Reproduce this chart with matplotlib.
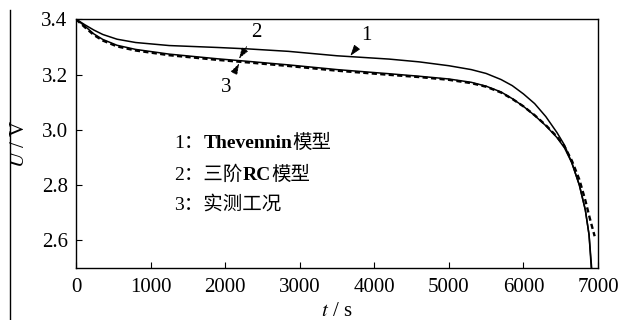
import matplotlib
matplotlib.use("Agg")
import matplotlib.pyplot as plt
from matplotlib.lines import Line2D

# ---- data ----
t_thev = [0, 50, 120, 240, 360, 550, 800, 1250, 1900, 2300, 2850, 3500, 4200, 4600,
          5000, 5300, 5500, 5700, 5850, 6000, 6150, 6300, 6450, 6550, 6650, 6750,
          6830, 6880, 6910]
u_thev = [3.400, 3.392, 3.380, 3.361, 3.345, 3.328, 3.316, 3.305, 3.298, 3.293, 3.284,
          3.268, 3.256, 3.246, 3.232, 3.218, 3.204, 3.182, 3.160, 3.130, 3.095, 3.048,
          2.990, 2.945, 2.880, 2.800, 2.710, 2.620, 2.500]

t_rc = [0, 50, 120, 240, 360, 550, 800, 1250, 1900, 2300, 2850, 3500, 4200, 4600,
        5000, 5300, 5500, 5700, 5850, 6000, 6150, 6300, 6450, 6550, 6650, 6750,
        6830, 6880, 6915]
u_rc = [3.400, 3.390, 3.375, 3.347, 3.327, 3.306, 3.291, 3.274, 3.257, 3.248, 3.235,
        3.218, 3.203, 3.194, 3.184, 3.172, 3.158, 3.137, 3.113, 3.085, 3.052, 3.015,
        2.972, 2.935, 2.880, 2.800, 2.710, 2.620, 2.500]

t_meas = [0, 50, 120, 240, 360, 550, 800, 1250, 1900, 2300, 2850, 3500, 4200, 4600,
          5000, 5300, 5500, 5700, 5850, 6000, 6150, 6300, 6450, 6550, 6650, 6750,
          6830, 6890, 6930, 6955]
u_meas = [3.400, 3.388, 3.371, 3.343, 3.323, 3.302, 3.287, 3.270, 3.253, 3.244, 3.231,
          3.214, 3.199, 3.191, 3.181, 3.169, 3.156, 3.135, 3.112, 3.085, 3.053, 3.017,
          2.975, 2.940, 2.888, 2.820, 2.745, 2.680, 2.640, 2.615]

x_ticks = [0, 1000, 2000, 3000, 4000, 5000, 6000, 7000]
y_ticks = [2.6, 2.8, 3.0, 3.2, 3.4]

legend_lines = [
    [("1：", "normal"), ("Thevennin", "bold"), ("模型", "normal")],
    [("2：三阶", "normal"), ("RC", "bold"), ("模型", "normal")],
    [("3：实测工况", "normal")],
]

FAM = ["Liberation Serif", "Noto Sans CJK SC", "DejaVu Sans"]
plt.rcParams["font.family"] = FAM
plt.rcParams["mathtext.fontset"] = "stix"

FS = 15

W, H = 620, 320
fig = plt.figure(figsize=(W / 100, H / 100), dpi=100)
L, R, T, B = 76, 598, 19.3, 268
ax = fig.add_axes([L / W, 1 - B / H, (R - L) / W, (B - T) / H])

ax.plot(t_thev, u_thev, color="black", lw=1.1)
ax.plot(t_rc, u_rc, color="black", lw=1.1)
ax.plot(t_meas, u_meas, color="black", lw=1.7, dashes=(2.2, 1.4))

ax.set_xlim(0, 7000)
ax.set_ylim(2.5, 3.4)
ax.set_xticks(x_ticks)
ax.set_yticks(y_ticks)
ax.set_yticklabels([f"{v:.1f}" for v in y_ticks])
ax.tick_params(direction="in", length=4, width=0.8, labelsize=FS,
               top=False, right=False)
ax.tick_params(axis="x", pad=7)
ax.tick_params(axis="y", pad=6)
for s in ax.spines.values():
    s.set_linewidth(1.0)

ax.set_xlabel("$t$ / s", fontsize=FS, labelpad=4)
ax.set_ylabel("$U$ / V", fontsize=FS, labelpad=9)

# annotations
arrow_kw = dict(arrowstyle="-|>,head_length=0.45,head_width=0.15", color="black",
                lw=0.6, shrinkA=2, shrinkB=0)
ax.annotate("1", xy=(3680, 3.268), xytext=(3893, 3.343), fontsize=FS,
            ha="center", va="center", arrowprops=arrow_kw)
ax.annotate("2", xy=(2187, 3.258), xytext=(2413, 3.354), fontsize=FS,
            ha="center", va="center", arrowprops=dict(arrow_kw, linestyle=(0, (2, 1.5))))
ax.annotate("3", xy=(2187, 3.240), xytext=(2013, 3.152), fontsize=FS,
            ha="center", va="center", arrowprops=dict(arrow_kw, linestyle=(0, (2, 1.5))))

# legend text
x0 = 1320
ys = [2.950, 2.838, 2.730]
for y, segs in zip(ys, legend_lines):
    prev = None
    for txt, wt in segs:
        if prev is None:
            prev = ax.text(x0, y, txt, fontsize=14, fontweight=wt,
                           ha="left", va="center")
        else:
            prev = ax.annotate(txt, xy=(1, 0), xycoords=prev, fontsize=14,
                               fontweight=wt, ha="left", va="bottom")

# left page border line
fig.add_artist(Line2D([9.5 / W, 9.5 / W], [0, 1 - 10 / H], color="black", lw=1.0))

fig.savefig("out.png", dpi=100)
